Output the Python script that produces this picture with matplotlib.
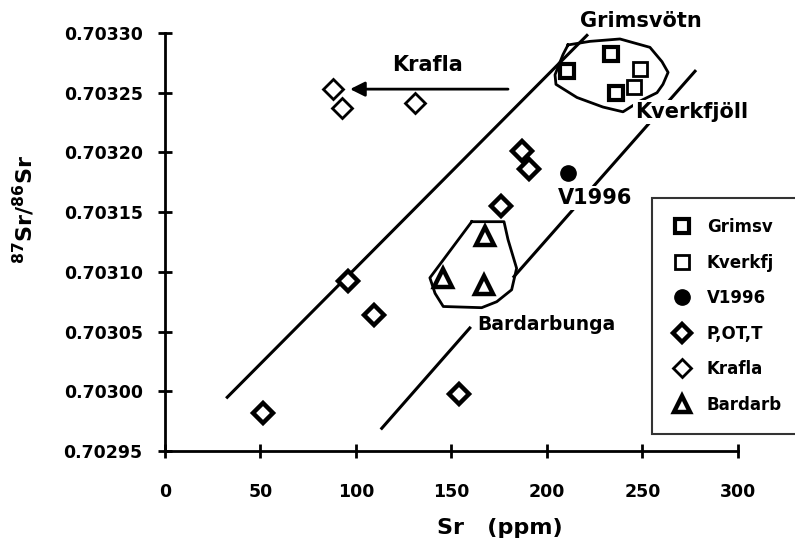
"""
87Sr/86Sr versus Sr (ppm) for Icelandic volcanic centres, with
outlined Grimsvotn and Bardarbunga fields and two bounding trend lines.
"""

import numpy as np
import matplotlib.pyplot as plt
from matplotlib.lines import Line2D

plt.rcParams['font.family'] = ['DejaVu Sans']
plt.rcParams['font.weight'] = 'bold'

# --- Data ---
grimsv_sr = [210.3, 233.5, 236.1]
grimsv_ratio = [0.703268, 0.703282, 0.703250]

kverkfj_sr = [248.7, 245.7]
kverkfj_ratio = [0.703270, 0.703255]

v1996_sr = [211.2]
v1996_ratio = [0.703183]

potl_sr = [187.0, 190.6, 175.9, 95.6, 109.4, 51.5, 153.9]
potl_ratio = [0.703201, 0.703186, 0.703155, 0.703092, 0.703064, 0.702982, 0.702998]

krafla_sr = [87.8, 92.8, 130.9]
krafla_ratio = [0.703253, 0.703237, 0.703241]

bardarb_sr = [167.5, 145.7, 167.2]
bardarb_ratio = [0.703130, 0.703095, 0.703089]

# trend lines (lower one broken where it meets the Bardarbunga field)
upper_line_sr = [32.6, 220.9]
upper_line_ratio = [0.702995, 0.703298]
lower_line_sr = [113.5, 159.6, np.nan, 182.7, 277.5]
lower_line_ratio = [0.702969, 0.703053, np.nan, 0.703096, 0.703268]

# hand-drawn outlines of the fields
grims_field_sr = [211.0, 222.5, 238.2, 253.9, 260.2, 263.4, 260.7, 257.6,
                  248.7, 239.8, 229.3, 215.7, 204.7, 204.2, 208.4, 211.0]
grims_field_ratio = [0.703290, 0.703293, 0.703295, 0.703288, 0.703276,
                     0.703267, 0.703257, 0.703250, 0.703243, 0.703234,
                     0.703238, 0.703246, 0.703257, 0.703265, 0.703282, 0.703290]
bard_field_sr = [160.6, 177.5, 179.6, 184.1, 181.5, 173.7, 165.8, 145.7,
                 141.4, 138.7, 160.6]
bard_field_ratio = [0.703142, 0.703142, 0.703127, 0.703103, 0.703085,
                    0.703075, 0.703070, 0.703071, 0.703082, 0.703095, 0.703142]

krafla_arrow_sr = [179.6, 96.9]
krafla_arrow_ratio = 0.703253

x_ticks = [0, 50, 100, 150, 200, 250, 300]
y_ticks = [0.70295, 0.70300, 0.70305, 0.70310, 0.70315, 0.70320, 0.70325, 0.70330]

# --- Plot ---
fig = plt.figure(figsize=(7.95, 5.5), dpi=100)
ax = fig.add_axes([0.2075, 0.18, 0.7208, 0.76])

ax.plot(upper_line_sr, upper_line_ratio, color='black', lw=2.2, zorder=1)
ax.plot(lower_line_sr, lower_line_ratio, color='black', lw=2.2, zorder=1)
ax.plot(grims_field_sr, grims_field_ratio, color='black', lw=2, zorder=1)
ax.plot(bard_field_sr, bard_field_ratio, color='black', lw=2, zorder=1)

ax.annotate('', xy=(krafla_arrow_sr[1], krafla_arrow_ratio),
            xytext=(krafla_arrow_sr[0], krafla_arrow_ratio),
            arrowprops=dict(arrowstyle='-|>', lw=2, color='black',
                            mutation_scale=22, shrinkA=0, shrinkB=0))

mk = dict(ls='none', color='black', mfc='white', zorder=4)
ax.plot(grimsv_sr, grimsv_ratio, marker='s', ms=10, mew=3, **mk)
ax.plot(kverkfj_sr, kverkfj_ratio, marker='s', ms=10, mew=2, **mk)
ax.plot(v1996_sr, v1996_ratio, marker='o', ms=11, mew=1, ls='none',
        color='black', zorder=4)
ax.plot(potl_sr, potl_ratio, marker='D', ms=10, mew=3.2, **mk)
ax.plot(krafla_sr, krafla_ratio, marker='D', ms=10, mew=2, **mk)
ax.plot(bardarb_sr, bardarb_ratio, marker='^', ms=13, mew=3.2, **mk)

# labels
lbl = dict(fontweight='bold', zorder=3)
ax.text(249.2, 0.703310, 'Grimsvötn', ha='center', va='center',
        fontsize=15, **lbl)
ax.text(246.0, 0.703234, 'Kverkfjöll', ha='left', va='center', fontsize=15,
        bbox=dict(facecolor='white', edgecolor='none', pad=1.5), **lbl)
ax.text(137.7, 0.703273, 'Krafla', ha='center', va='center',
        fontsize=15, **lbl)
ax.text(225.1, 0.703162, 'V1996', ha='center', va='center', fontsize=15,
        bbox=dict(facecolor='white', edgecolor='none', pad=1.5), **lbl)
ax.text(163.5, 0.703056, 'Bardarbunga', ha='left', va='center',
        fontsize=13.5, **lbl)

# axes
ax.set_xlim(0, 300)
ax.set_ylim(0.70295, 0.70330)
ax.set_xticks(x_ticks)
ax.set_yticks(y_ticks)
ax.set_yticklabels([f'{v:.5f}' for v in y_ticks])
for s in ['top', 'right']:
    ax.spines[s].set_visible(False)
for s in ['left', 'bottom']:
    ax.spines[s].set_linewidth(2)
ax.tick_params(axis='both', direction='inout', length=10, width=2,
               labelsize=12.5)
ax.tick_params(axis='x', pad=18)
ax.tick_params(axis='y', pad=11)
for t in ax.get_xticklabels() + ax.get_yticklabels():
    t.set_fontweight('bold')

fig.text(500 / 795, 1 - 528 / 550, 'Sr   (ppm)', fontsize=16,
         fontweight='bold', ha='center', va='center')
fig.text(24 / 795, 1 - 210 / 550, r'$^{\mathbf{87}}$Sr/$^{\mathbf{86}}$Sr',
         fontsize=16, fontweight='bold', rotation=90, ha='center', va='center')

# legend
handles = [
    Line2D([], [], marker='s', ms=10, mew=3, **mk),
    Line2D([], [], marker='s', ms=10, mew=2, **mk),
    Line2D([], [], marker='o', ms=11, ls='none', color='black'),
    Line2D([], [], marker='D', ms=9, mew=3.2, **mk),
    Line2D([], [], marker='D', ms=9, mew=2, **mk),
    Line2D([], [], marker='^', ms=12, mew=3.2, **mk),
]
labels = ['Grimsv', 'Kverkfj', 'V1996', 'P,OT,T', 'Krafla', 'Bardarb']
leg = fig.legend(handles, labels, loc='upper left',
                 bbox_to_anchor=(652 / 795, 1 - 198 / 550),
                 fontsize=12, frameon=True, fancybox=False,
                 handlelength=1.2, handletextpad=0.9, labelspacing=1.05,
                 borderpad=1.2, borderaxespad=0)
leg.get_frame().set_edgecolor('black')
leg.get_frame().set_linewidth(1.5)
for t in leg.get_texts():
    t.set_fontweight('bold')

fig.savefig('out.png', dpi=100, facecolor='white')
